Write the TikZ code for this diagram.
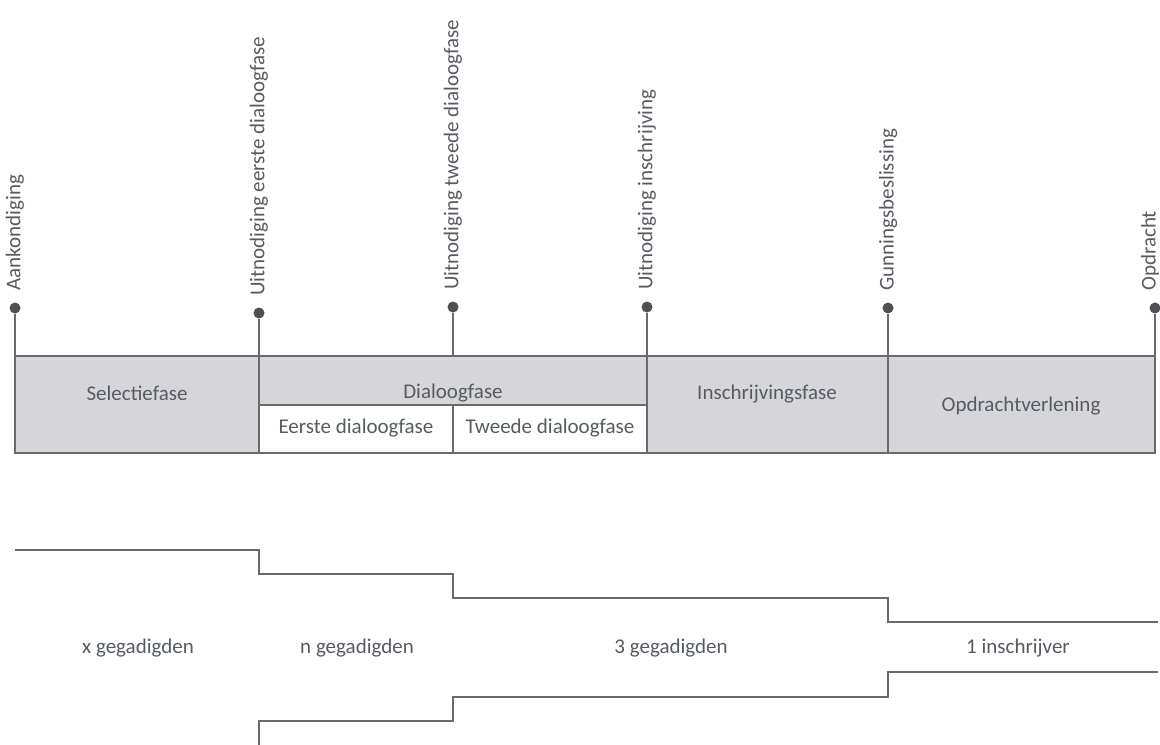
\documentclass[tikz,border=0pt]{standalone}
\usepackage{fontspec}
\setmainfont{Carlito}
\usepackage{xcolor}
\usetikzlibrary{positioning}

\definecolor{lijn}{HTML}{676A6F}
\definecolor{tekst}{HTML}{565B62}
\definecolor{vlak}{HTML}{D6D6DA}
\definecolor{punt}{HTML}{4E5054}

\begin{document}
\begin{tikzpicture}[x=0.5pt,y=-0.5pt,
  lbl/.style={text=tekst,font=\fontsize{10.5}{12}\selectfont,inner sep=0pt},
  mlbl/.style={lbl,rotate=90,anchor=west},
  mijlpaal/.style={circle,fill=punt,inner sep=0pt,minimum size=5.5pt},
  rand/.style={draw=lijn,line width=1.1pt},
  trap/.style={draw=lijn,line width=1.4pt}]
  \useasboundingbox (0,0) rectangle (1160,744);
  % Fasen
  \fill[vlak] (15,356) rectangle (1155,453);
  \fill[white] (259,405) rectangle (647,453);
  \draw[rand] (15,356) rectangle (1155,453);
  \draw[rand] (259,405) -- (647,405);
  \foreach \x in {259,647,888}
    \draw[rand] (\x,356) -- (\x,453);
  \draw[rand] (453,405) -- (453,453);
  \node[lbl] (selectie) at (137,393) {Selectiefase};
  \node[lbl] (dialoog) at (453,393) {Dialoogfase};
  \node[lbl] (eerste) at (356,428) {Eerste dialoogfase};
  \node[lbl] (tweede) at (550,428) {Tweede dialoogfase};
  \node[lbl] (inschrijving) at (767,394) {Inschrijvingsfase};
  \node[lbl] (verlening) at (1021,406) {Opdrachtverlening};
  % Mijlpalen
  \foreach \n/\x/\y/\t/\d in {aank/15/308/Aankondiging/0,
      eerste/259/313/Uitnodiging eerste dialoogfase/0,
      tweede/453/307/Uitnodiging tweede dialoogfase/0,
      inschr/647/307/Uitnodiging inschrijving/0,
      gunning/888/308/Gunningsbeslissing/0,
      opdracht/1155/308/Opdracht/-2.5} {
    \node[mijlpaal] (\n-p) at (\x,\y) {};
    \coordinate (\n-v) at (\x,356);
    \draw[lijn,line width=0.8pt] (\n-p) -- (\n-v);
    \node[mlbl] (\n-t) at ([xshift=\d pt,yshift=5.5pt]\n-p.north) {\t};
  }
  % Aantal partijen
  \draw[trap] (15,550) -| (259,574) -| (453,598) -| (888,622) -- (1158,622);
  \draw[trap] (259,746) |- (453,721) |- (888,697) |- (1158,672);
  \node[lbl] (x-geg) at (138,648) {x gegadigden};
  \node[lbl] (n-geg) at (357,648) {n gegadigden};
  \node[lbl] (drie-geg) at (671,648) {3 gegadigden};
  \node[lbl] (een-inschr) at (1018,648) {1 inschrijver};
\end{tikzpicture}
\end{document}
